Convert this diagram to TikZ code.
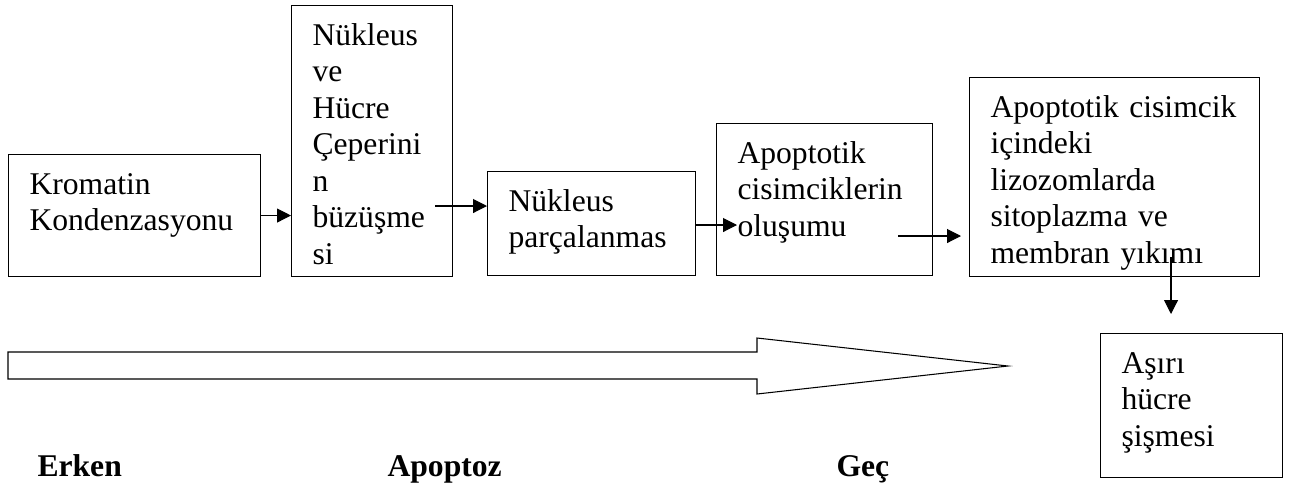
\documentclass[tikz,border=0pt]{standalone}
\usepackage{fontspec}
\setmainfont{Liberation Serif}
\usetikzlibrary{arrows.meta, positioning}
\tikzset{every picture/.style={line width=0.6pt}}

\begin{document}
\begin{tikzpicture}[
  x=0.02cm, y=-0.02cm,
  stagebox/.style={draw, anchor=north west, inner sep=0pt},
  stagetext/.style={anchor=base west, inner sep=0pt, align=left, text width=#1,
    font=\fontsize{18pt}{20.8pt}\selectfont},
  stagetext/.default=5cm,
  phase/.style={anchor=base west, inner sep=0pt, font=\fontsize{18pt}{21pt}\selectfont\bfseries},
  flow/.style={-{Triangle[length=0.28cm, width=0.28cm]}}
]
  \useasboundingbox (0,0) rectangle (1300,488);

  % stages
  \node[stagebox, minimum width=5.04cm, minimum height=2.44cm] (krom) at (8,154) {};
  \node[stagetext] (kromt) at ([xshift=0.42cm, yshift=-0.8cm]krom.north west)
    {Kromatin\\Kondenzasyonu};

  \node[stagebox, minimum width=3.22cm, minimum height=5.42cm] (buzus) at (291,5) {};
  \node[stagetext=2.6cm] (buzust) at ([xshift=0.42cm, yshift=-0.8cm]buzus.north west)
    {Nükleus\\ve\\Hücre\\Çeperini\\n\\büzüşme\\si};

  \node[stagebox, minimum width=4.16cm, minimum height=2.08cm] (parca) at (487,171) {};
  \node[stagetext] (parcat) at ([xshift=0.42cm, yshift=-0.8cm]parca.north west)
    {Nükleus\\parçalanmas};

  \node[stagebox, minimum width=4.32cm, minimum height=3.04cm] (cisim) at (716,123) {};
  \node[stagetext] (cisimt) at ([xshift=0.42cm, yshift=-0.8cm]cisim.north west)
    {Apoptotik\\cisimciklerin\\oluşumu};

  \node[stagebox, minimum width=5.8cm, minimum height=3.98cm] (yikim) at (969,77) {};
  \node[stagetext=5.5cm] (yikimt) at ([xshift=0.42cm, yshift=-0.8cm]yikim.north west)
    {Apoptotik cisimcik\\içindeki\\lizozomlarda\\sitoplazma ve\\membran yıkımı};

  \node[stagebox, minimum width=3.64cm, minimum height=2.88cm] (sisme) at (1100,333) {};
  \node[stagetext] (sismet) at ([xshift=0.42cm, yshift=-0.8cm]sisme.north west)
    {Aşırı\\hücre\\şişmesi};

  % loose arrow ends
  \coordinate (a2s) at (435,206);
  \coordinate (a3e) at (737,225);
  \coordinate (a4s) at (898,236);
  \coordinate (a4e) at (961,236);
  \coordinate (a5s) at (1171,257);
  \coordinate (a5e) at (1171,314);

  \draw[flow] (krom.east) -- (krom.east -| buzus.west);
  \draw[flow] (a2s) -- (a2s -| parca.west);
  \draw[flow] (parca.east |- a3e) -- (a3e);
  \draw[flow] (a4s) -- (a4e);
  \draw[flow] (a5s) -- (a5e);

  % time line
  \draw (8,352) -- (757,352) -- (757,338) -- (1008,366) -- (757,394)
    -- (757,379) -- (8,379) -- cycle;

  \node[phase] (erken) at (37,476) {Erken};
  \node[phase] (apop) at (387,476) {Apoptoz};
  \node[phase] (gec) at (836,476) {Geç};
\end{tikzpicture}
\end{document}
